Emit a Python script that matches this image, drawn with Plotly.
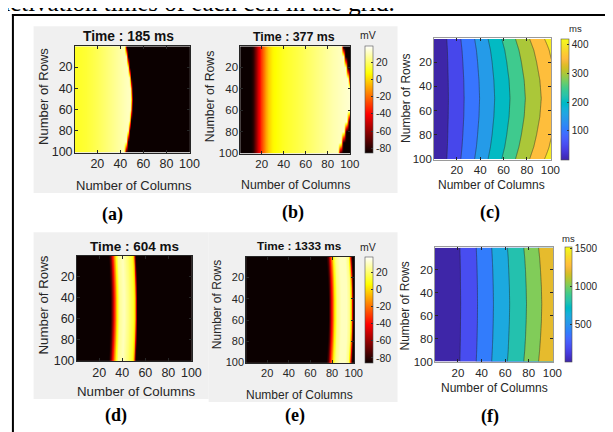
import numpy as np
import plotly.graph_objects as go

W, H = 613, 432
FONT = "Liberation Sans"
SERIF = "Liberation Serif"
TXT = "#262626"

# ---------------- data ----------------
ROWS = [1, 10, 20, 30, 40, 50, 60, 70, 80, 90, 100]
GRID_TICKS = [20, 40, 60, 80, 100]
TITLES = {"a": "Time : 185 ms", "b": "Time : 377 ms", "d": "Time : 604 ms", "e": "Time : 1333 ms"}
LABELS = {"a": "(a)", "b": "(b)", "c": "(c)", "d": "(d)", "e": "(e)", "f": "(f)"}
X_TITLE = "Number of Columns"
Y_TITLE = "Number of Rows"
TOP_TEXT = "activation times of each cell in the grid."

VM_RANGE = [-86, 38]
VM_TICKS = [-80, -60, -40, -20, 0, 20]
VM_UNIT = "mV"
MS_UNIT = "ms"

# (a) t = 185 ms: potential behind the front (by column) and front column per row
A_PROFILE_COL = [1, 10, 20, 30, 40, 46, 52]
A_PROFILE_MV = [11, 13, 17, 22, 27, 30, 31]
A_FRONT_COL = [44.2, 45.6, 47.0, 48.3, 49.3, 49.6, 49.3, 48.3, 47.2, 45.6, 43.8]

# (b) t = 377 ms
B_PROFILE_COL = [1, 10, 12, 14, 16, 18, 20, 23, 26, 30, 40, 55, 70, 85, 95, 102]
B_PROFILE_MV = [-86, -86, -82, -70, -55, -42, -30, -15, -3, 5, 11, 16, 22, 28, 31, 33]
B_FRONT_COL = [93.0, 95.0, 97.0, 99.0, 100.6, 101.0, 100.4, 98.0, 95.5, 92.8, 90.0]

# upstroke at the wave front (offset from front column, mV)
EDGE_OFFSET = [-1.2, 0.0, 1.2]
EDGE_MV = [60, 0, -86]

# (d) t = 604 ms: band profile at the middle row, and its shift per row
D_PROFILE_COL = [29, 30.5, 32, 33.5, 35, 37, 41, 45, 49, 50.5, 51.5, 52.5]
D_PROFILE_MV = [-86, -72, -45, -20, 5, 25, 30, 22, 12, 0, -50, -86]
D_SHIFT_COL = [-0.8, -0.4, 0.0, 0.3, 0.5, 0.5, 0.5, 0.3, 0.0, -0.4, -0.8]

# (e) t = 1333 ms
E_PROFILE_COL = [76, 77.5, 79, 80.5, 82, 84, 88, 93, 96, 97.5, 98.5, 99.5]
E_PROFILE_MV = [-86, -72, -45, -20, 5, 22, 30, 30, 22, -10, -60, -86]
E_SHIFT_COL = [-1.0, -0.5, 0.0, 0.3, 0.5, 0.5, 0.5, 0.3, 0.0, -0.5, -1.0]

# (c) activation time map: column of each contour level per row
C_LEVELS = [50, 100, 150, 200, 250, 300, 350, 400]
C_ROWS = [1, 10, 20, 35, 50, 65, 80, 90, 100]
C_LINE_COLS = [
    [11.5, 23.5, 35.3, 46.8, 58.5, 70.2, 82.3, 95.0],
    [12.0, 24.5, 36.8, 48.8, 61.0, 73.1, 85.8, 98.9],
    [12.3, 25.2, 37.8, 50.2, 62.7, 75.2, 88.2, 101.6],
    [12.7, 26.0, 39.0, 51.7, 64.7, 77.6, 91.0, 104.7],
    [12.9, 26.3, 39.5, 52.4, 65.5, 78.6, 92.2, 106.0],
    [12.7, 26.0, 39.0, 51.7, 64.7, 77.6, 91.0, 104.7],
    [12.3, 25.2, 37.8, 50.2, 62.7, 75.2, 88.2, 101.6],
    [12.0, 24.5, 36.8, 48.8, 61.0, 73.1, 85.8, 98.9],
    [11.5, 23.5, 35.3, 46.8, 58.5, 70.2, 82.3, 95.0],
]
C_START_MS, C_END_MS = 0, 450      # at column 0.5 and column 110 (outside view)
C_RANGE = [0, 422]
C_TICKS = [100, 200, 300, 400]

# (f) activation time map
F_LEVELS = [200, 400, 600, 800, 1000, 1200, 1400]
F_ROWS = [1, 10, 20, 35, 50, 65, 80, 90, 100]
F_LINE_COLS = [
    [21.7, 35.5, 48.6, 61.9, 75.8, 88.3, 102.0],
    [21.9, 35.9, 49.1, 62.6, 76.6, 89.2, 103.1],
    [22.1, 36.2, 49.5, 63.0, 77.2, 89.9, 103.9],
    [22.2, 36.5, 49.9, 63.6, 77.8, 90.7, 104.7],
    [22.3, 36.6, 50.1, 63.8, 78.1, 91.0, 105.1],
    [22.2, 36.5, 49.9, 63.6, 77.8, 90.7, 104.7],
    [22.1, 36.2, 49.5, 63.0, 77.2, 89.9, 103.9],
    [21.9, 35.9, 49.1, 62.6, 76.6, 89.2, 103.1],
    [21.7, 35.5, 48.6, 61.9, 75.8, 88.3, 102.0],
]
F_START_MS, F_END_MS = 0, 1520
F_RANGE = [0, 1515]
F_TICKS = [500, 1000, 1500]

# ---------------- colour maps ----------------
HOT = [[0, "rgb(11,0,0)"], [0.365, "rgb(255,0,0)"], [0.746, "rgb(255,255,0)"], [1, "rgb(255,255,255)"]]
PARULA = [
    (0.2422, 0.1504, 0.6603), (0.2504, 0.1650, 0.7076), (0.2578, 0.1818, 0.7511), (0.2647, 0.1978, 0.7952),
    (0.2706, 0.2147, 0.8364), (0.2751, 0.2342, 0.8710), (0.2783, 0.2559, 0.8991), (0.2803, 0.2782, 0.9221),
    (0.2813, 0.3006, 0.9414), (0.2810, 0.3228, 0.9579), (0.2795, 0.3447, 0.9717), (0.2760, 0.3667, 0.9829),
    (0.2699, 0.3892, 0.9906), (0.2602, 0.4123, 0.9952), (0.2440, 0.4358, 0.9988), (0.2206, 0.4603, 0.9973),
    (0.1963, 0.4847, 0.9892), (0.1834, 0.5074, 0.9798), (0.1786, 0.5289, 0.9682), (0.1764, 0.5499, 0.9520),
    (0.1687, 0.5703, 0.9359), (0.1540, 0.5902, 0.9218), (0.1460, 0.6091, 0.9079), (0.1380, 0.6276, 0.8973),
    (0.1248, 0.6459, 0.8883), (0.1113, 0.6635, 0.8763), (0.0952, 0.6798, 0.8598), (0.0689, 0.6948, 0.8394),
    (0.0297, 0.7082, 0.8163), (0.0036, 0.7203, 0.7917), (0.0067, 0.7312, 0.7660), (0.0433, 0.7411, 0.7394),
    (0.0964, 0.7500, 0.7120), (0.1408, 0.7584, 0.6842), (0.1717, 0.7670, 0.6554), (0.1938, 0.7758, 0.6251),
    (0.2161, 0.7843, 0.5923), (0.2470, 0.7918, 0.5567), (0.2906, 0.7973, 0.5188), (0.3406, 0.8008, 0.4789),
    (0.3909, 0.8029, 0.4354), (0.4456, 0.8024, 0.3909), (0.5044, 0.7993, 0.3480), (0.5616, 0.7942, 0.3045),
    (0.6174, 0.7876, 0.2612), (0.6720, 0.7793, 0.2227), (0.7242, 0.7698, 0.1910), (0.7738, 0.7598, 0.1646),
    (0.8203, 0.7498, 0.1535), (0.8634, 0.7406, 0.1596), (0.9035, 0.7330, 0.1774), (0.9393, 0.7288, 0.2100),
    (0.9728, 0.7298, 0.2394), (0.9956, 0.7434, 0.2371), (0.9970, 0.7659, 0.2199), (0.9952, 0.7893, 0.2028),
    (0.9892, 0.8136, 0.1885), (0.9786, 0.8386, 0.1766), (0.9676, 0.8639, 0.1643), (0.9610, 0.8890, 0.1537),
    (0.9597, 0.9135, 0.1423), (0.9628, 0.9373, 0.1265), (0.9691, 0.9606, 0.1064), (0.9769, 0.9839, 0.0805),
]


def rgb(c):
    return "rgb(%d,%d,%d)" % tuple(round(v * 255) for v in c)


PARULA_SCALE = [[i / 63, rgb(c)] for i, c in enumerate(PARULA)]


def parula_at(s):
    return rgb(PARULA[min(max(int(s * 64), 0), 63)])


def band_scale(levels, zr):
    bounds = [zr[0]] + list(levels)
    n = len(levels)
    return [[k / n, parula_at((b - zr[0]) / (zr[1] - zr[0]))] for k, b in enumerate(bounds)]


# ---------------- geometry (pixels) ----------------
GEOM = {"a": (68, 185, 39, 147), "b": (236, 348, 39, 148), "c": (433, 552, 31, 154),
        "d": (70, 187, 252, 359), "e": (242, 352, 253, 361), "f": (434, 554, 243, 360)}
AX = {"a": "", "b": "2", "c": "3", "d": "4", "e": "5", "f": "6"}
TICK_FS = {"a": 12.5, "b": 11.5, "c": 11.5, "d": 12.5, "e": 11, "f": 11.5}
AXT_FS = {"a": 13, "b": 12.3, "c": 12, "d": 13.3, "e": 12, "f": 12}
TITLE_FS = {"a": 13.8, "b": 12.4, "d": 13.5, "e": 11.8}
TITLE_POS = {"a": (123, 29), "b": (291, 29), "d": (128.7, 242.3), "e": (296, 242.3)}
XT_POS = {"a": (127.8, 180), "b": (292, 180), "c": (492, 180), "d": (131, 390), "e": (296.3, 393), "f": (494.5, 386)}
YT_POS = {"a": (36, 90), "b": (205, 90), "c": (404, 92), "d": (36, 302), "e": (212.5, 302), "f": (403.5, 302.5)}
LAB_POS = {"a": (106.7, 210), "b": (290, 208.3), "c": (490, 208.3), "d": (110, 414.3), "e": (291.7, 414.3), "f": (490, 415)}


def X(p):
    return p / W


def Y(p):
    return 1 - p / H


fig = go.Figure()

cols = np.linspace(0.5, 100.5, 401)


def front_cut(profile_col, profile_mv, fronts):
    return [np.minimum(np.interp(cols, profile_col, profile_mv),
                       np.interp(cols - f, EDGE_OFFSET, EDGE_MV)) for f in fronts]


def band(profile_col, profile_mv, shifts):
    return [np.interp(cols - s, profile_col, profile_mv) for s in shifts]


def cbar(rng_px, tickvals, fs, ticktext=None):
    l, r, t, b = rng_px
    d = dict(x=X(l), xanchor="left", xpad=0, y=Y((t + b) / 2), yanchor="middle",
             len=(b - t) / H, lenmode="fraction", ypad=0, thickness=r - l, thicknessmode="pixels",
             outlinewidth=0.6, outlinecolor="#505050", tickvals=tickvals, ticks="inside", ticklen=2,
             tickcolor="#303030", tickfont=dict(family=FONT, size=fs, color=TXT))
    if ticktext is not None:
        d["ticktext"] = ticktext
    return d


VM_TEXT = [str(v) for v in VM_TICKS]

hm = {"a": front_cut(A_PROFILE_COL, A_PROFILE_MV, A_FRONT_COL),
      "b": front_cut(B_PROFILE_COL, B_PROFILE_MV, B_FRONT_COL),
      "d": band(D_PROFILE_COL, D_PROFILE_MV, D_SHIFT_COL),
      "e": band(E_PROFILE_COL, E_PROFILE_MV, E_SHIFT_COL)}
cb_px = {"b": (362.5, 370.5, 39, 148), "e": (363, 371, 253, 361)}
for k, z in hm.items():
    kw = dict(showscale=False)
    if k in cb_px:
        kw = dict(showscale=True, colorbar=cbar(cb_px[k], VM_TICKS, 10.5, VM_TEXT))
    fig.add_trace(go.Heatmap(x=cols, y=ROWS, z=z, colorscale=HOT, zmin=VM_RANGE[0], zmax=VM_RANGE[1],
                             zsmooth="best", hoverinfo="skip", xaxis="x" + AX[k], yaxis="y" + AX[k], **kw))

ccols = np.linspace(0.5, 110, 439)
act = {"c": (C_ROWS, C_LINE_COLS, C_LEVELS, C_START_MS, C_END_MS, C_RANGE, C_TICKS, (562, 570, 31, 154)),
       "f": (F_ROWS, F_LINE_COLS, F_LEVELS, F_START_MS, F_END_MS, F_RANGE, F_TICKS, (566, 573, 243, 360))}
for k, (rows, lines, levels, t0, t1, zr, ticks, cpx) in act.items():
    z = [np.interp(ccols, [0.5] + row + [110], [t0] + levels + [t1]) for row in lines]
    step = levels[1] - levels[0]
    fig.add_trace(go.Contour(x=ccols, y=rows, z=z, autocontour=False,
                             contours=dict(start=levels[0], end=levels[-1], size=step, coloring="fill",
                                           showlines=True),
                             line=dict(color="rgba(35,35,35,0.8)", width=0.6, smoothing=0),
                             colorscale=band_scale(levels, zr), showscale=False, hoverinfo="skip",
                             xaxis="x" + AX[k], yaxis="y" + AX[k]))
    fig.add_trace(go.Scatter(x=[-50], y=[-50], mode="markers", hoverinfo="skip",
                             marker=dict(color=[zr[0]], colorscale=PARULA_SCALE, cmin=zr[0], cmax=zr[1],
                                         showscale=True, colorbar=cbar(cpx, ticks, 10)),
                             xaxis="x" + AX[k], yaxis="y" + AX[k]))

layout = dict(width=W, height=H, margin=dict(l=0, r=0, t=0, b=0), paper_bgcolor="white",
              plot_bgcolor="rgba(0,0,0,0)", showlegend=False)
for k, (l, r, t, b) in GEOM.items():
    lc = "#262626" if k in hm else "#9a9a9a"
    common = dict(showline=True, linecolor=lc, linewidth=0.6, mirror="ticks", ticks="inside", ticklen=3,
                  tickwidth=0.6, tickcolor="#262626", showgrid=False, zeroline=False,
                  tickvals=GRID_TICKS, tickfont=dict(family=FONT, size=TICK_FS[k], color=TXT), fixedrange=True)
    layout["xaxis" + AX[k]] = dict(domain=[X(l), X(r)], range=[0.5, 100.5], anchor="y" + AX[k], **common)
    layout["yaxis" + AX[k]] = dict(domain=[Y(b), Y(t)], range=[100.5, 0.5], anchor="x" + AX[k],
                                   ticklabelstandoff=-1, **common)

GREY = "#f0f0f0"
shapes = [
    dict(type="rect", xref="paper", yref="paper", x0=X(26), x1=X(396), y0=Y(188), y1=Y(18.5),
         fillcolor=GREY, line=dict(width=0), layer="below"),
    dict(type="rect", xref="paper", yref="paper", x0=X(26), x1=X(204), y0=Y(397.5), y1=Y(228),
         fillcolor=GREY, line=dict(width=0), layer="below"),
    dict(type="rect", xref="paper", yref="paper", x0=X(204), x1=X(396), y0=Y(400.5), y1=Y(228),
         fillcolor=GREY, line=dict(width=0), layer="below"),
    dict(type="line", xref="paper", yref="paper", x0=X(5), x1=X(5), y0=Y(6.2), y1=Y(432),
         line=dict(color="black", width=2)),
    dict(type="line", xref="paper", yref="paper", x0=X(4), x1=X(613), y0=Y(7.2), y1=Y(7.2),
         line=dict(color="black", width=2)),
]

ann = []


def A(text, x, y, size, family=FONT, bold=False, angle=0, color=TXT, xanchor="center"):
    ann.append(dict(text=("<b>%s</b>" % text) if bold else text, x=X(x), y=Y(y), xref="paper", yref="paper",
                    showarrow=False, xanchor=xanchor, yanchor="middle", textangle=angle,
                    font=dict(family=family, size=size, color=color)))


for k, txt in TITLES.items():
    A(txt, *TITLE_POS[k], TITLE_FS[k], bold=True, color="#111111")
for k in GEOM:
    A(X_TITLE, *XT_POS[k], AXT_FS[k])
    A(Y_TITLE, *YT_POS[k], AXT_FS[k], angle=-90)
    A(LABELS[k], *LAB_POS[k], 18, family=SERIF, bold=True, color="black")
A(VM_UNIT, 365.5, 27.5, 10.5)
A(VM_UNIT, 365.8, 242.5, 10.5)
A(MS_UNIT, 576.5, 21, 9.5)
A(MS_UNIT, 570, 234, 9.5)
# sentence of the page above the figure, cut by the top edge as in the reference
A(TOP_TEXT, -11, -6, 25, family=SERIF, color="black", xanchor="left")

layout["shapes"] = shapes
layout["annotations"] = ann
fig.update_layout(**layout)
fig.write_html("out.html")
